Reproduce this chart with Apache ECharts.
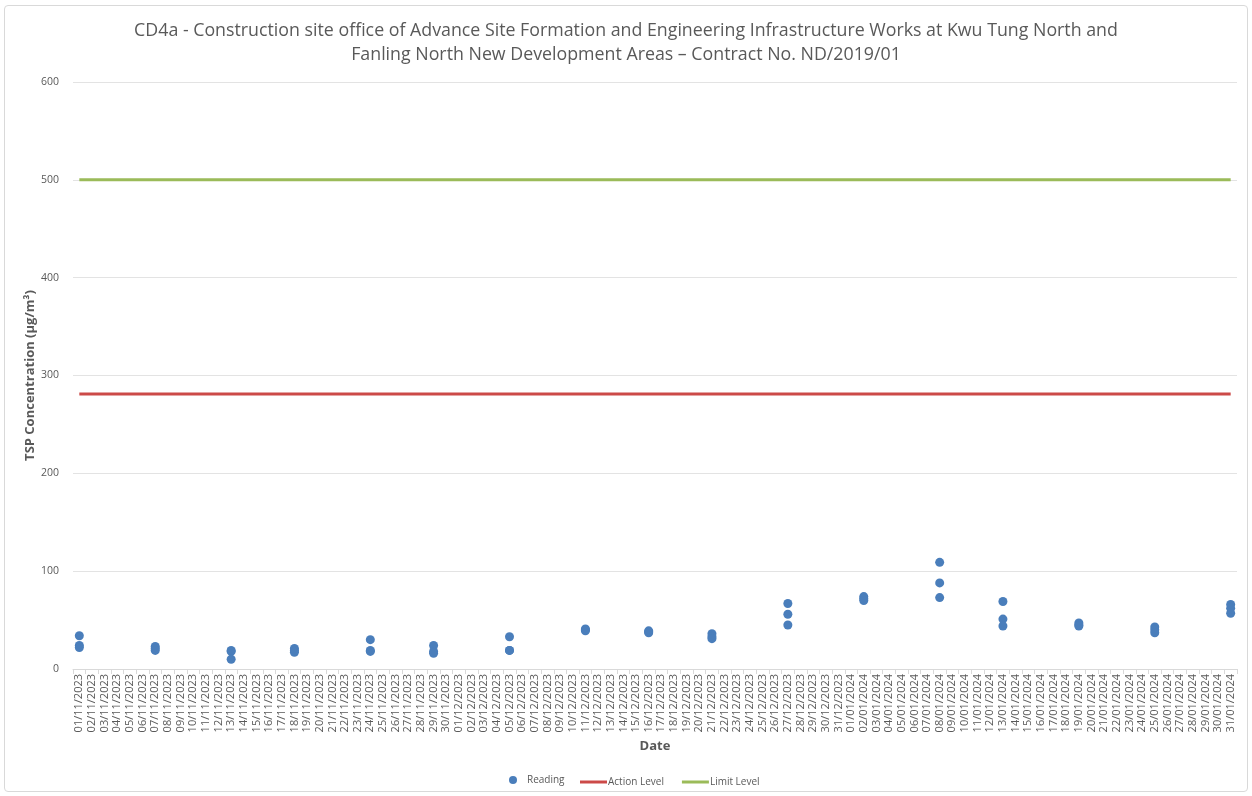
<!DOCTYPE html>
<html>
<head>
<meta charset="utf-8">
<script src="https://cdn.jsdelivr.net/npm/echarts@6/dist/echarts.min.js"></script>
<style>
    html, body {margin: 0; padding: 0; background: #ffffff;}
    .chart_frame {
        position: absolute; left: 4px; top: 5px; width: 1244px; height: 787px;
        border: 1px solid #d9d9d9; border-radius: 4px; box-sizing: border-box;
    }
    #chartBox {position: absolute; left: 0; top: 0; width: 1252px; height: 796px;}
</style>
</head>
<body>
<div class="chart_frame"></div>
<div id="chartBox"></div>
<script>
// 日期 01/11/2023 - 31/01/2024
let dateLabels = [];
(function () {
    let d = new Date(2023, 10, 1);
    let end = new Date(2024, 0, 31);
    while (d <= end) {
        let dd = ('0' + d.getDate()).slice(-2);
        let mm = ('0' + (d.getMonth() + 1)).slice(-2);
        dateLabels.push(dd + '/' + mm + '/' + d.getFullYear());
        d.setDate(d.getDate() + 1);
    }
})();

// 监测日期及读数 (每次 3 个读数)
let sampleDates = [
    '01/11/2023', '07/11/2023', '13/11/2023', '18/11/2023', '24/11/2023', '29/11/2023',
    '05/12/2023', '11/12/2023', '16/12/2023', '21/12/2023', '27/12/2023',
    '02/01/2024', '08/01/2024', '13/01/2024', '19/01/2024', '25/01/2024', '31/01/2024'
];
let readings1 = [34, 23, 19, 21, 30, 24, 33, 41, 39, 36, 67, 74, 109, 69, 47, 43, 66];
let readings2 = [24, 21, 18, 19, 19, 18, 19, 40, 38, 33, 56, 72, 88, 51, 45, 40, 62];
let readings3 = [22, 19, 10, 17, 18, 16, 19, 39, 37, 31, 45, 70, 73, 44, 44, 37, 57];

let actionLevel = 281;
let limitLevel = 500;

let yTicks = [0, 100, 200, 300, 400, 500, 600];

let readingData = [];
sampleDates.forEach(function (d, i) {
    readingData.push([d, readings1[i]]);
    readingData.push([d, readings2[i]]);
    readingData.push([d, readings3[i]]);
});
let actionData = dateLabels.map(function () { return actionLevel; });
let limitData = dateLabels.map(function () { return limitLevel; });

let chartBox = echarts.init(document.getElementById('chartBox'));
let textColor = '#595959';
let fontName = '"Open Sans", "Noto Sans", sans-serif';
let option = {
    animation: false,
    title: {
        show: true,
        text: 'CD4a - Construction site office of Advance Site Formation and Engineering Infrastructure Works at Kwu Tung North and\nFanling North New Development Areas \u2013 Contract No. ND/2019/01',
        left: 'center', top: 14,
        textStyle: {color: textColor, fontSize: 17.8, fontWeight: 'normal', fontFamily: fontName, lineHeight: 24}
    },
    legend: [{
        top: 770, left: 504, itemWidth: 8, itemHeight: 8, itemGap: 10,
        textStyle: {color: textColor, fontSize: 10, fontFamily: fontName, padding: [0, 0, 0, 5]},
        data: [{name: 'Reading', icon: 'circle'}]
    }, {
        top: 772, left: 575, itemWidth: 27, itemHeight: 3, itemGap: 18,
        textStyle: {color: textColor, fontSize: 10, fontFamily: fontName, padding: [0, 0, 0, -4]},
        data: [{name: 'Action Level', icon: 'rect'}, {name: 'Limit Level', icon: 'rect'}]
    }],
    grid: {left: 73, right: 15, top: 82, bottom: 127},
    xAxis: {
        type: 'category', boundaryGap: true, data: dateLabels,
        name: 'Date', nameLocation: 'middle', nameGap: 70,
        nameTextStyle: {color: textColor, fontSize: 13, fontWeight: 'bold', fontFamily: fontName},
        axisLine: {show: true, lineStyle: {color: '#d9d9d9'}},
        axisTick: {show: true, length: 5, interval: 0, lineStyle: {color: '#d9d9d9'}},
        axisLabel: {interval: 0, rotate: 90, color: textColor, fontSize: 11, fontFamily: fontName, margin: 5},
        splitLine: {show: false}
    },
    yAxis: {
        type: 'value', min: 0, max: 600, interval: 100,
        name: 'TSP Concentration (\u00b5g/m\u00b3)', nameLocation: 'middle', nameGap: 36,
        nameMoveOverlap: false,
        nameTextStyle: {color: textColor, fontSize: 13, fontWeight: 'bold', fontFamily: fontName},
        axisLine: {show: false}, axisTick: {show: false},
        axisLabel: {color: textColor, fontSize: 10.5, fontFamily: fontName, margin: 14},
        splitLine: {show: true, lineStyle: {color: '#e3e3e3'}}
    },
    series: [
        {
            type: 'scatter', name: 'Reading', data: readingData,
            symbol: 'circle', symbolSize: 9,
            itemStyle: {color: '#4a7ebb', opacity: 1}, z: 5
        },
        {
            type: 'line', name: 'Action Level', data: actionData,
            showSymbol: false, symbol: 'none',
            lineStyle: {color: '#cc4a48', width: 3}, itemStyle: {color: '#cc4a48'}
        },
        {
            type: 'line', name: 'Limit Level', data: limitData,
            showSymbol: false, symbol: 'none',
            lineStyle: {color: '#9bbb59', width: 3}, itemStyle: {color: '#9bbb59'}
        }
    ]
};
chartBox.setOption(option, true);
</script>
</body>
</html>
